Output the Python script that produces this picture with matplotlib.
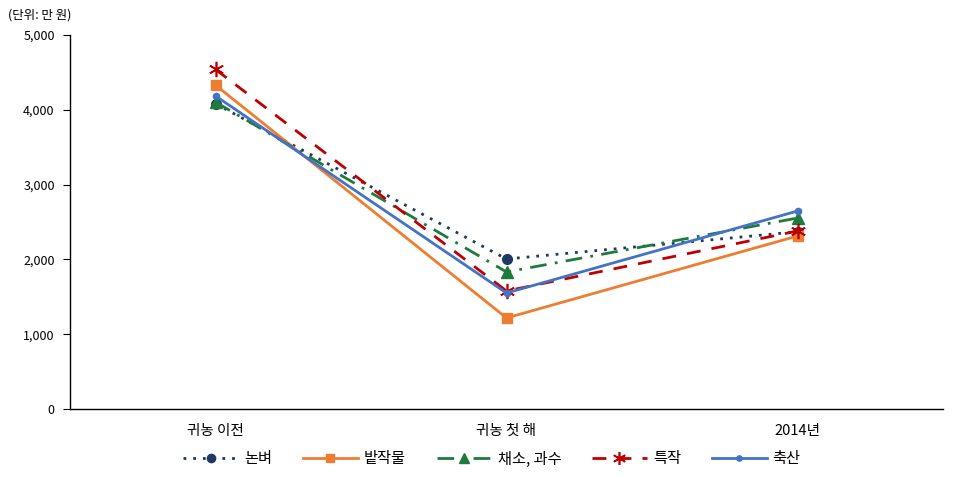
import matplotlib
matplotlib.use("Agg")
import matplotlib.pyplot as plt

plt.rcParams['font.family'] = ['Noto Sans CJK KR', 'DejaVu Sans']

categories = ["귀농 이전", "귀농 첫 해", "2014년"]
series_names = ["논벼", "밭작물", "채소, 과수", "특작", "축산"]
rice = [4080, 2005, 2370]
field = [4330, 1217, 2313]
veg_fruit = [4104, 1832, 2553]
special = [4540, 1578, 2380]
livestock = [4185, 1551, 2647]
yticks = [0, 1000, 2000, 3000, 4000, 5000]
unit_label = "(단위: 만 원)"

fig = plt.figure(figsize=(9.63, 4.78), dpi=100)
ax = fig.add_axes([70/963, 69/478, 873/963, 374/478])

x = list(range(len(categories)))
ax.plot(x, rice, color='#203864', linestyle=(0, (1, 2.5)), linewidth=2,
        marker='o', markersize=7, label=series_names[0])
ax.plot(x, field, color='#ED7D31', linestyle='-', linewidth=2,
        marker='s', markersize=7, label=series_names[1])
ax.plot(x, veg_fruit, color='#1E7B3C', linestyle=(0, (6, 3, 1, 3)), linewidth=2,
        marker='^', markersize=8, label=series_names[2])
ax.plot(x, special, color='#C00000', linestyle=(0, (5, 4)), linewidth=2,
        marker=(6, 2, 0), markersize=11, markeredgewidth=1.2, label=series_names[3])
ax.plot(x, livestock, color='#4472C4', linestyle='-', linewidth=2,
        marker='o', markersize=4.5, label=series_names[4])

ax.set_xlim(-0.5, len(categories) - 0.5)
ax.set_ylim(0, 5000)
ax.set_yticks(yticks)
ax.set_yticklabels([f"{v:,}" for v in yticks], fontsize=9)
ax.set_xticks(x)
ax.set_xticklabels(categories, fontsize=10.5)
ax.tick_params(axis='x', length=0, pad=11)
ax.tick_params(axis='y', length=5, direction='out', pad=6)
for s in ['top', 'right']:
    ax.spines[s].set_visible(False)
ax.spines['left'].set_linewidth(1)
ax.spines['bottom'].set_linewidth(1)

fig.text(8/963, 1 - 15/478, unit_label, fontsize=9, va='center', ha='left')

leg = fig.legend(loc='center', bbox_to_anchor=(492/963, 1 - 459/478), ncol=5,
                 frameon=False, fontsize=11, handlelength=3.6, columnspacing=2.0,
                 handletextpad=0.4, markerscale=0.85)

fig.savefig("out.png", dpi=100)
